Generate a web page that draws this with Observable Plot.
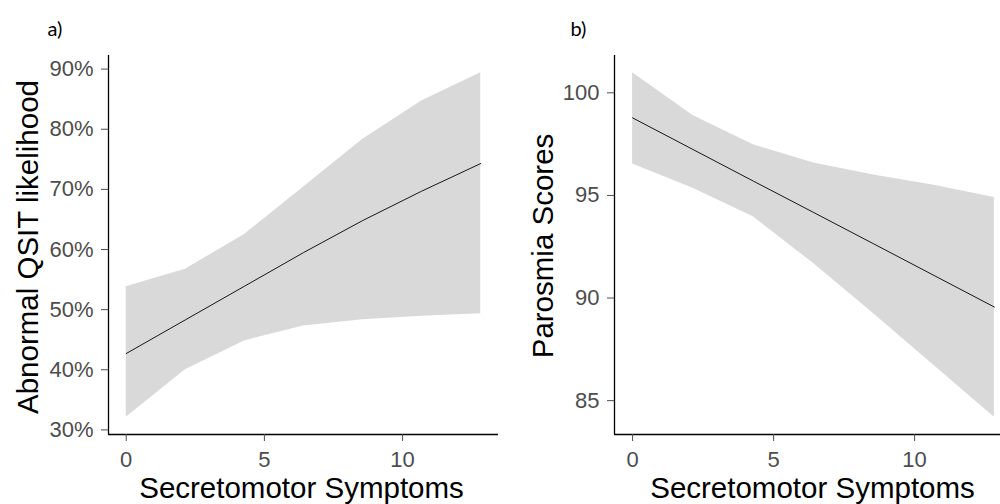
<!DOCTYPE html>
<html>
<head>
<meta charset="utf-8">
<script src="https://cdn.jsdelivr.net/npm/d3@7"></script>
<script src="https://cdn.jsdelivr.net/npm/@observablehq/plot@0.6"></script>
<style>
  html, body { margin: 0; padding: 0; background: white; }
  #wrap { position: relative; width: 1000px; height: 504px; overflow: hidden; background: white; }
  #pa, #pb { position: absolute; top: 0; }
  #pa { left: 0; width: 500px; }
  #pb { left: 500px; width: 513px; }
  #wrap svg { max-width: none !important; }
</style>
</head>
<body>
<div id="wrap"><div id="pa"></div><div id="pb"></div></div>
<script>
// Shared x values (secretomotor symptoms)
const symptoms = [0, 2.14, 4.28, 6.42, 8.55, 10.69, 12.83];

// Panel a) Abnormal QSIT likelihood (%)
const qsitFit  = [42.7, 48.3, 53.9, 59.5, 64.8, 69.7, 74.3];
const qsitLow  = [32.1, 40.0, 44.8, 47.3, 48.3, 48.9, 49.3];
const qsitHigh = [53.8, 56.7, 62.5, 70.4, 78.3, 84.7, 89.4];
const qsitTicks = [30, 40, 50, 60, 70, 80, 90];

// Panel b) Parosmia Scores
const parFit  = [98.78, 97.24, 95.70, 94.17, 92.64, 91.10, 89.56];
const parLow  = [96.53, 95.35, 93.96, 91.68, 89.24, 86.71, 84.19];
const parHigh = [100.98, 98.89, 97.47, 96.58, 96.00, 95.50, 94.90];
const parTicks = [85, 90, 95, 100];

const xTicks = [0, 5, 10];
const xTitle = "Secretomotor Symptoms";

function expand(lo, hi) {
  const r = hi - lo;
  return [lo - 0.05 * r, hi + 0.05 * r];
}

function panel({fit, low, high, yTicks, yFmt, yTitle, tag, width, marginLeft, marginRight, titleDx, titleDy, xTitleDx, tagDx}) {
  const data = symptoms.map((x, i) => ({x, fit: fit[i], lo: low[i], hi: high[i]}));
  const xd = expand(d3.min(symptoms), d3.max(symptoms));
  const yd = expand(d3.min(low), d3.max(high));
  return Plot.plot({
    width, height: 504,
    marginLeft, marginRight, marginTop: 55, marginBottom: 70,
    style: {fontFamily: "'Liberation Sans', Arial, sans-serif", color: "#4d4d4d", background: "white", overflow: "visible", maxWidth: "none"},
    x: {domain: xd, label: null},
    y: {domain: yd, label: null},
    marks: [
      Plot.areaY(data, {x: "x", y1: "lo", y2: "hi", fill: "#d9d9d9"}),
      Plot.line(data, {x: "x", y: "fit", stroke: "black", strokeWidth: 0.9}),
      Plot.ruleX([xd[0]], {stroke: "black", strokeWidth: 1.3}),
      Plot.ruleY([yd[0]], {stroke: "black", strokeWidth: 1.3}),
      Plot.axisX({ticks: xTicks, tickSize: 7, tickPadding: 10, fontSize: 22, label: null}),
      Plot.axisY({ticks: yTicks, tickFormat: yFmt, tickSize: 7, tickPadding: 8, fontSize: 22, label: null}),
      Plot.text([yTitle], {text: d => d, frameAnchor: "left", rotate: -90, dx: titleDx, dy: titleDy,
        lineAnchor: "bottom", textAnchor: "middle", fontSize: 29.5, fill: "black"}),
      Plot.text([xTitle], {text: d => d, frameAnchor: "bottom", dx: xTitleDx, dy: 63,
        lineAnchor: "bottom", textAnchor: "middle", fontSize: 29.5, fill: "black"}),
      Plot.text([tag], {text: d => d, frameAnchor: "top-left", dx: tagDx, dy: -20,
        lineAnchor: "bottom", textAnchor: "start", fontSize: 20, fontFamily: "Lato, 'Open Sans', sans-serif", fill: "black"})
    ]
  });
}

document.getElementById("pa").appendChild(panel({
  fit: qsitFit, low: qsitLow, high: qsitHigh, yTicks: qsitTicks, yFmt: d => d + "%",
  yTitle: "Abnormal QSIT likelihood", tag: "a)",
  width: 500, marginLeft: 108, marginRight: 2, titleDx: -71, titleDy: 2, xTitleDx: -2, tagDx: -61
}));

document.getElementById("pb").appendChild(panel({
  fit: parFit, low: parLow, high: parHigh, yTicks: parTicks, yFmt: d => String(d),
  yTitle: "Parosmia Scores", tag: "b)",
  width: 513, marginLeft: 114, marginRight: 1, titleDx: -62, titleDy: 1, xTitleDx: -1, tagDx: -44
}));
</script>
</body>
</html>
